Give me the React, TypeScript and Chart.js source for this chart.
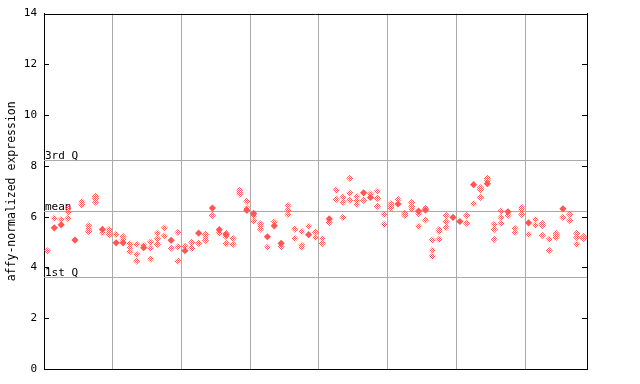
import React, { useEffect, useRef } from "react";
import { Chart, registerables } from "chart.js";

Chart.register(...registerables);

// y-axis tick labels
const yTicks = [0, 2, 4, 6, 8, 10, 12, 14];
// reference lines
const thirdQ = 8.22;
const meanVal = 6.21;
const firstQ = 3.61;
const refLabels = ["3rd Q", "mean", "1st Q"];
// vertical grid positions (sample index)
const xGrid = [10, 20, 30, 40, 50, 60, 70];
const sampleCount = 79;

// filled (solid) diamonds per sample (null = none)
const solidValues: (number | null)[] = [
  null, 5.56, 5.68, null, 5.08, null, null, null, 5.5, null,
  4.97, 4.97, null, null, 4.78, null, null, null, 5.07, null,
  4.66, null, 5.35, null, 6.34, 5.49, 5.29, null, null, 6.25,
  6.13, null, 5.21, 5.64, 4.95, null, null, null, 5.29, null,
  null, 5.91, null, null, null, null, 6.94, 6.76, null, null,
  null, 6.5, null, null, 6.22, 6.26, null, null, null, 5.97,
  5.81, null, 7.26, null, 7.3, null, null, 6.19, null, null,
  5.76, null, null, null, null, 6.31, null, null, null,
];

// checkered (replicate) diamonds per sample
const replicateValues: number[][] = [
  [4.65], [5.93], [5.89], [6.34, 6.18, 5.93], [], [6.59, 6.47], [5.64, 5.52, 5.42], [6.8, 6.72, 6.57], [5.37], [5.5, 5.41, 5.29],
  [5.3], [5.22, 5.1], [4.93, 4.78, 4.62], [4.91, 4.52, 4.25], [4.87], [5.0, 4.76, 4.34], [5.35, 5.13, 4.91], [5.55, 5.24], [4.76], [5.38, 4.82, 4.25],
  [4.84], [4.99, 4.76], [4.95], [5.3, 5.18, 5.07], [6.05], [5.35], [5.34, 5.21, 4.95], [5.14, 4.91], [7.05, 6.97, 6.89], [6.61, 6.33],
  [6.04, 5.83], [5.72, 5.62, 5.51], [4.8], [5.79], [4.82], [6.44, 6.26, 6.09], [5.51, 5.14], [5.42, 4.87, 4.79], [5.62], [5.39, 5.18],
  [5.14, 4.95], [5.77], [7.05, 6.68], [6.77, 6.57, 5.97], [7.51, 6.93, 6.65], [6.8, 6.64, 6.48], [6.64], [6.89], [7.0, 6.72, 6.41], [6.09, 5.7],
  [6.52, 6.43, 6.34], [6.68], [6.13, 6.05], [6.56, 6.41, 6.29], [6.11, 5.62], [6.34, 5.87], [5.08, 4.67, 4.44], [5.5, 5.42, 5.11], [6.05, 5.81, 5.58], [],
  [], [6.05, 5.74], [6.52], [7.14, 7.06, 6.76], [7.51, 7.41], [5.7, 5.5, 5.11], [6.22, 5.97, 5.74], [6.05], [5.54, 5.38], [6.37, 6.29, 6.09],
  [5.3], [5.89, 5.66], [5.74, 5.66, 5.26], [5.11, 4.67], [5.34, 5.26, 5.18], [5.97], [6.09, 5.85], [5.34, 5.18, 4.91], [5.22, 5.14],
];

const RED = "#ff5555";
const GRID = "#aaaaaa";
const FONT = "DejaVu Sans Mono";

export default function App() {
  const ref = useRef<HTMLCanvasElement | null>(null);

  useEffect(() => {
    const canvas = ref.current;
    if (!canvas) return;

    const pc = document.createElement("canvas");
    pc.width = 2;
    pc.height = 2;
    const pctx = pc.getContext("2d")!;
    pctx.fillStyle = RED;
    pctx.fillRect(0, 0, 1, 1);
    pctx.fillRect(1, 1, 1, 1);
    const ctx0 = canvas.getContext("2d")!;
    const pattern = ctx0.createPattern(pc, "repeat")!;

    const solidData = solidValues
      .map((v, i) => (v === null ? null : { x: i + 0.5, y: v }))
      .filter((p) => p !== null) as { x: number; y: number }[];
    const repData: { x: number; y: number }[] = [];
    replicateValues.forEach((arr, i) => arr.forEach((v) => repData.push({ x: i + 0.5, y: v })));

    const overlay = {
      id: "overlay",
      beforeDatasetsDraw(chart: any) {
        const { ctx, chartArea } = chart;
        const y = chart.scales.y;
        ctx.save();
        ctx.strokeStyle = GRID;
        ctx.lineWidth = 1;
        [thirdQ, meanVal, firstQ].forEach((v) => {
          const py = Math.round(y.getPixelForValue(v)) + 0.5;
          ctx.beginPath();
          ctx.moveTo(chartArea.left, py);
          ctx.lineTo(chartArea.right, py);
          ctx.stroke();
        });
        ctx.fillStyle = "#000";
        ctx.font = `11px "${FONT}"`;
        ctx.textAlign = "left";
        ctx.textBaseline = "alphabetic";
        [thirdQ, meanVal, firstQ].forEach((v, i) => {
          const py = Math.round(y.getPixelForValue(v));
          ctx.fillText(refLabels[i], chartArea.left + 1, py - 1);
        });
        ctx.restore();
      },
      afterDraw(chart: any) {
        const { ctx, chartArea } = chart;
        const y = chart.scales.y;
        ctx.save();
        ctx.strokeStyle = "#000";
        ctx.lineWidth = 1;
        ctx.beginPath();
        ctx.moveTo(chartArea.left, Math.round(chartArea.top) + 0.5);
        ctx.lineTo(chartArea.right, Math.round(chartArea.top) + 0.5);
        yTicks.forEach((t) => {
          const py = Math.round(y.getPixelForValue(t)) + 0.5;
          ctx.moveTo(chartArea.left, py);
          ctx.lineTo(chartArea.left + 5, py);
          ctx.moveTo(chartArea.right - 5, py);
          ctx.lineTo(chartArea.right, py);
        });
        ctx.stroke();
        ctx.translate(12, (chartArea.top + chartArea.bottom) / 2 + 0);
        ctx.rotate(-Math.PI / 2);
        ctx.font = `11.5px "${FONT}"`;
        ctx.fillStyle = "#000";
        ctx.textAlign = "center";
        ctx.textBaseline = "middle";
        ctx.fillText("affy-normalized expression", 0, 0);
        ctx.restore();
      },
    };

    const chart = new Chart(canvas, {
      type: "scatter",
      data: {
        datasets: [
          {
            data: repData,
            pointStyle: "rectRot",
            pointRadius: 3.6,
            backgroundColor: pattern as any,
            borderWidth: 0,
            borderColor: "rgba(0,0,0,0)",
          },
          {
            data: solidData,
            pointStyle: "rectRot",
            pointRadius: 3.6,
            backgroundColor: RED,
            borderWidth: 0,
            borderColor: "rgba(0,0,0,0)",
          },
        ],
      },
      options: {
        animation: false,
        responsive: false,
        events: [],
        layout: { padding: { top: 13, left: 0, right: 0, bottom: 0 } },
        plugins: { legend: { display: false }, tooltip: { enabled: false } },
        scales: {
          x: {
            type: "linear",
            min: 0,
            max: sampleCount,
            afterBuildTicks: (s: any) => {
              s.ticks = xGrid.map((v) => ({ value: v }));
            },
            afterFit: (s: any) => {
              s.height = 15;
            },
            ticks: { display: false },
            grid: { color: GRID, drawTicks: false, lineWidth: 1 },
            border: { display: true, color: "#000", width: 1 },
          },
          y: {
            min: 0,
            max: 14,
            afterBuildTicks: (s: any) => {
              s.ticks = yTicks.map((v) => ({ value: v }));
            },
            afterFit: (s: any) => {
              s.width = 44;
            },
            ticks: {
              color: "#000",
              font: { family: FONT, size: 11 },
              padding: 7,
            },
            grid: { drawOnChartArea: false, drawTicks: false },
            border: { display: true, color: "#000", width: 1 },
          },
          y2: {
            position: "right",
            min: 0,
            max: 14,
            afterFit: (s: any) => {
              s.width = 53;
            },
            ticks: { display: false },
            grid: { drawOnChartArea: false, drawTicks: false },
            border: { display: true, color: "#000", width: 1 },
          },
        },
      },
      plugins: [overlay],
    });

    return () => chart.destroy();
  }, []);

  return (
    <div style={{ position: "absolute", left: 0, top: 0, width: 640, height: 384, background: "#fff" }}>
      <canvas ref={ref} width={640} height={384} style={{ display: "block" }} />
    </div>
  );
}
